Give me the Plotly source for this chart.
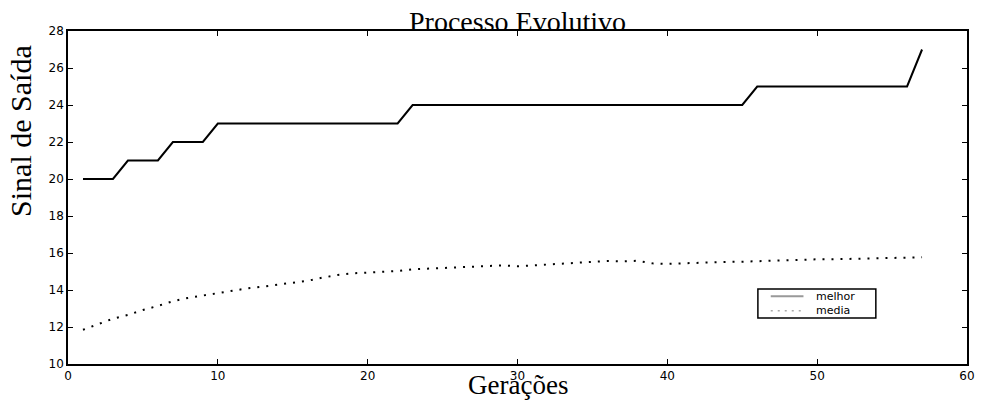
import plotly.graph_objects as go

generations = list(range(1, 58))
melhor = [20, 20, 20, 21, 21, 21, 22, 22, 22] + [23] * 13 + [24] * 23 + [25] * 11 + [27]
media = [11.85, 12.16, 12.45, 12.65, 12.92, 13.14, 13.39, 13.57, 13.71, 13.85,
         13.96, 14.09, 14.18, 14.29, 14.42, 14.50, 14.67, 14.81, 14.90, 14.94,
         14.99, 15.03, 15.12, 15.15, 15.21, 15.22, 15.24, 15.31, 15.33, 15.28,
         15.33, 15.41, 15.46, 15.50, 15.53, 15.57, 15.55, 15.58, 15.44, 15.41,
         15.44, 15.48, 15.50, 15.52, 15.53, 15.56, 15.58, 15.58, 15.62, 15.66,
         15.66, 15.68, 15.70, 15.71, 15.73, 15.77, 15.77]
x_ticks = [0, 10, 20, 30, 40, 50, 60]
y_ticks = [10, 12, 14, 16, 18, 20, 22, 24, 26, 28]
legend_names = ["melhor", "media"]

fig = go.Figure()
fig.add_trace(go.Scatter(x=generations, y=melhor, mode="lines", name=legend_names[0],
                         showlegend=False, line=dict(color="black", width=2)))
fig.add_trace(go.Scatter(x=generations, y=media, mode="lines", name=legend_names[1],
                         showlegend=False,
                         line=dict(color="black", width=2, dash="2px,7px")))

axis_common = dict(showline=True, mirror="ticks", linecolor="black", linewidth=1.5,
                   ticks="inside", ticklen=5, tickcolor="black", showgrid=False,
                   zeroline=False,
                   tickfont=dict(family="DejaVu Sans", size=12, color="black"))
fig.update_xaxes(range=[0, 60], tickvals=x_ticks, ticktext=[str(v) for v in x_ticks],
                 **axis_common)
fig.update_yaxes(range=[10, 28], tickvals=y_ticks, ticktext=[str(v) for v in y_ticks],
                 **axis_common)

# manual compact legend (MATLAB style)
lx0, lx1, ly0, ly1 = 0.7674, 0.8986, 0.1381, 0.2252
sx0, sx1, tx = 0.7817, 0.8181, 0.8313
rows_y = [0.2031, 0.1602]
shapes = [dict(type="rect", xref="paper", yref="paper", x0=lx0, x1=lx1, y0=ly0, y1=ly1,
               line=dict(color="black", width=1.5), fillcolor="white", layer="above")]
shapes.append(dict(type="line", xref="paper", yref="paper", x0=sx0, x1=sx1,
                   y0=rows_y[0], y1=rows_y[0], line=dict(color="#999999", width=2)))
shapes.append(dict(type="line", xref="paper", yref="paper", x0=sx0, x1=sx1,
                   y0=rows_y[1], y1=rows_y[1],
                   line=dict(color="#aaaaaa", width=1.5, dash="2px,5px")))

serif = "Liberation Serif"
annotations = [
    dict(text="Processo Evolutivo", xref="paper", yref="paper", x=0.5, y=1,
         xanchor="center", yanchor="bottom", yshift=-8, showarrow=False,
         font=dict(family=serif, size=28, color="black")),
    dict(text="Gerações", xref="paper", yref="paper", x=0.5, y=0,
         xanchor="center", yanchor="middle", yshift=-21, showarrow=False,
         font=dict(family=serif, size=27, color="black")),
    dict(text="Sinal de Saída", xref="paper", yref="paper", x=0, y=0.70,
         xanchor="center", yanchor="middle", xshift=-47, textangle=-90,
         showarrow=False, font=dict(family=serif, size=30, color="black")),
    dict(text="<br>".join(legend_names), xref="paper", yref="paper", x=tx,
         y=(rows_y[0] + rows_y[1]) / 2, xanchor="left", yanchor="middle",
         align="left", showarrow=False, borderpad=0,
         font=dict(family="DejaVu Sans", size=11, color="black")),
]

fig.update_layout(
    width=985, height=400,
    margin=dict(l=68, r=10, t=31, b=36),
    plot_bgcolor="white", paper_bgcolor="white",
    showlegend=False,
    shapes=shapes,
    annotations=annotations,
)

fig.write_html("out.html")
